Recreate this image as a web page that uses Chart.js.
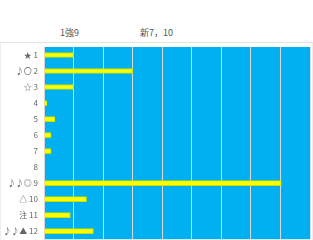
<!DOCTYPE html>
<html><head><meta charset="utf-8">
<script src="https://cdn.jsdelivr.net/npm/chart.js@4"></script>
<style>
html,body{margin:0;padding:0;background:#fff;}
#wrap{position:relative;width:313px;height:240px;overflow:hidden;}
#t1,#t2{position:absolute;top:26px;font:9px "Noto Sans CJK JP",sans-serif;color:#555;white-space:nowrap;}
#t1{left:60px;}
#t2{left:140px;}
#box{position:absolute;left:0;top:42px;width:311px;height:200px;border-top:1px solid #e4e4e4;border-left:1px solid #eee;border-right:1px solid #eee;}
#c{position:absolute;left:0;top:0;}
</style></head>
<body>
<div id="wrap">
<div id="t1">1強9</div>
<div id="t2">新7，10</div>
<div id="box"></div>
<canvas id="c" width="313" height="250"></canvas>
</div>
<script>
const categories = ["★ 1","♪〇 2","☆ 3","4","5","6","7","8","♪♪◎ 9","△ 10","注 11","♪♪▲ 12"];
const values = [1, 3, 1, 0.1, 0.37, 0.24, 0.24, 0, 8.03, 1.44, 0.89, 1.67];
const xMax = 9;

const bgPlugin = {
  id: 'bg',
  beforeDraw(chart) {
    const a = chart.chartArea, ctx = chart.ctx;
    ctx.save();
    ctx.fillStyle = '#00b0f0';
    ctx.fillRect(a.left, a.top, a.right - a.left, a.bottom - a.top);
    ctx.restore();
  }
};

new Chart(document.getElementById('c'), {
  type: 'bar',
  data: {
    labels: categories,
    datasets: [{
      data: values,
      backgroundColor: '#ffff00',
      borderColor: '#c8e000',
      borderWidth: 1,
      barThickness: 5
    }]
  },
  options: {
    indexAxis: 'y',
    responsive: false,
    animation: false,
    layout: { padding: { top: 47, right: 3, bottom: 0, left: 0 } },
    plugins: { legend: { display: false }, tooltip: { enabled: false } },
    scales: {
      x: {
        min: 0, max: xMax,
        ticks: { display: false, stepSize: 1 },
        grid: { color: '#d8d8d8', lineWidth: 1, drawTicks: false },
        border: { display: false },
        afterFit(s) { s.height = 0; }
      },
      y: {
        ticks: { color: '#666', font: { size: 8, family: '"Noto Sans CJK JP", sans-serif' }, padding: 6 },
        grid: { display: false, drawTicks: false },
        border: { display: false },
        afterFit(s) { s.width = 44; }
      }
    }
  },
  plugins: [bgPlugin]
});
</script>
</body></html>
